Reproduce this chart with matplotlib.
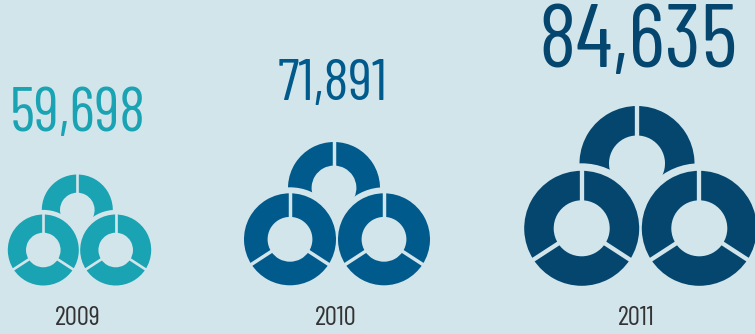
import matplotlib
matplotlib.use("Agg")
import matplotlib.pyplot as plt
import numpy as np
from matplotlib.patches import Circle

# figure size in pixels, axes run in pixels measured from the bottom left
W, H = 755, 334
BG = "#d2e5eb"

years = ["2009", "2010", "2011"]
totals = ["59,698", "71,891", "84,635"]
colors = ["#1aa3b3", "#015a8c", "#05466f"]

# share of each ring, degrees counter clockwise from 12 o'clock
lower_shares = [123, 114, 123]
upper_shares = [115, 130, 115]

# ring geometry per year
left_x = [43.3, 290, 581.7]
right_x = [115.7, 384, 699.3]
top_x = [77.3, 334, 637]
lower_y = [250, 239.3, 228.3]
top_y = [210, 188, 163.5]
radius = [35.5, 46, 57.5]

total_x = [78, 332.5, 638.5]
total_y = [131, 100, 66.7]
total_size = [44, 42, 64]
year_x = [78, 336, 636]
year_y = [325, 325, 325]

HOLE = 0.487
GAP = 0.075
MASK = 1.13


def ring(ax, cx, cy, r, shares, colour, spokes, z):
    fills = [colour] * len(shares)
    if shares == upper_shares:
        fills[1] = "none"
    wedges, _ = ax.pie(shares, colors=fills, radius=r, center=(cx, H - cy), startangle=90,
                       frame=True, wedgeprops=dict(width=r * (1 - HOLE), linewidth=0))
    for w in wedges:
        w.set_zorder(z)
    lw = r * GAP * 72 / 100
    for a in spokes:
        t = np.radians(a)
        ax.plot([cx + 0.2 * r * np.cos(t), cx + 1.05 * r * np.cos(t)],
                [H - cy + 0.2 * r * np.sin(t), H - cy + 1.05 * r * np.sin(t)],
                color=BG, lw=lw, solid_capstyle="butt", zorder=z + 0.1)


plt.rcParams["font.family"] = ["Barlow Condensed", "Liberation Sans Narrow", "Lato", "DejaVu Sans"]
fig = plt.figure(figsize=(W / 100, H / 100), dpi=100, facecolor=BG)
ax = fig.add_axes([0, 0, 1, 1])

for i in range(3):
    r = radius[i]
    c = colors[i]
    ring(ax, top_x[i], top_y[i], r, upper_shares, c, [90], 1)
    # lower rings sit on a background disc that trims the upper ring
    for x in (left_x[i], right_x[i]):
        ax.add_patch(Circle((x, H - lower_y[i]), r * MASK, fc=BG, ec="none", zorder=2))
    for x in (left_x[i], right_x[i]):
        ring(ax, x, lower_y[i], r, lower_shares, c, [90, 213, 327], 3)
    ax.text(total_x[i], H - total_y[i], totals[i], color=c, fontsize=total_size[i],
            ha="center", va="baseline", zorder=4)
    ax.text(year_x[i], H - year_y[i], years[i], color="#333333", fontsize=19.5,
            ha="center", va="baseline", zorder=4)

ax.set_xlim(0, W)
ax.set_ylim(0, H)
ax.set_aspect("auto")
ax.axis("off")
fig.savefig("out.png", dpi=100, facecolor=BG)
